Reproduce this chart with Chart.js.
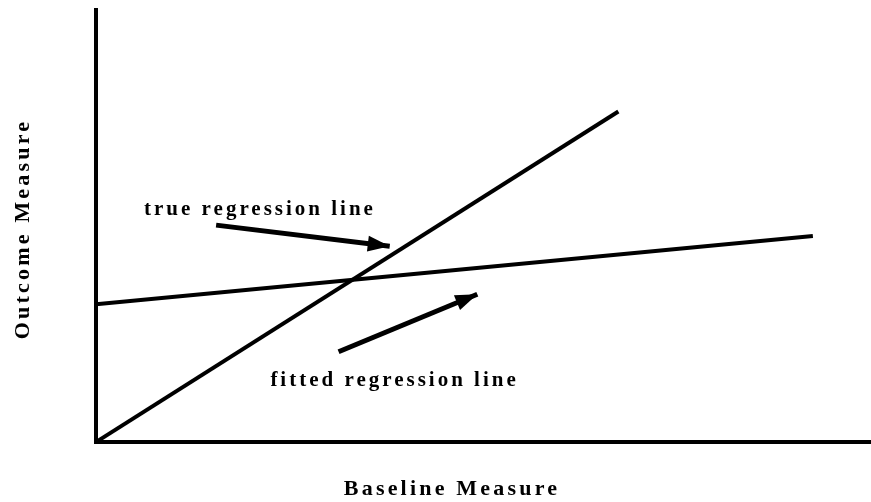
<!DOCTYPE html>
<html>
<head>
<meta charset="utf-8">
<script src="https://cdn.jsdelivr.net/npm/chart.js@4.4.0/dist/chart.umd.min.js"></script>
<style>
  html, body { margin: 0; padding: 0; background: #fff; }
  #wrap { width: 871px; height: 502px; }
</style>
</head>
<body>
<div id="wrap"><canvas id="myChart"></canvas></div>
<script>
// line endpoints in axis units (0-10 on both axes)
var trueLine = [{x: 0, y: 0}, {x: 6.74, y: 7.65}];
var fittedLine = [{x: 0, y: 3.19}, {x: 9.25, y: 4.77}];
// arrows: tail then tip
var arrowTrue = [{x: 1.55, y: 5.02}, {x: 3.79, y: 4.53}];
var arrowFitted = [{x: 3.13, y: 2.09}, {x: 4.92, y: 3.42}];
// annotation labels: [text, x, y]
var labels = [
  ["true regression line", 0.62, 5.38],
  ["fitted regression line", 2.25, 1.42]
];
var xTitle = "Baseline Measure";
var yTitle = "Outcome Measure";

var serif = "'Liberation Serif', 'DejaVu Serif', serif";

// arrowheads, labels and axis titles
var annotate = {
  id: "annotate",
  afterDatasetsDraw: function(chart) {
    var ctx = chart.ctx;
    var xs = chart.scales.x, ys = chart.scales.y;
    ctx.save();
    ctx.fillStyle = "#000";
    [arrowTrue, arrowFitted].forEach(function(a) {
      var x0 = xs.getPixelForValue(a[0].x), y0 = ys.getPixelForValue(a[0].y);
      var x1 = xs.getPixelForValue(a[1].x), y1 = ys.getPixelForValue(a[1].y);
      var ang = Math.atan2(y1 - y0, x1 - x0);
      var len = 22, half = 8;
      ctx.beginPath();
      ctx.moveTo(x1, y1);
      ctx.lineTo(x1 - len * Math.cos(ang) + half * Math.sin(ang), y1 - len * Math.sin(ang) - half * Math.cos(ang));
      ctx.lineTo(x1 - len * Math.cos(ang) - half * Math.sin(ang), y1 - len * Math.sin(ang) + half * Math.cos(ang));
      ctx.closePath();
      ctx.fill();
    });
    ctx.font = "bold 21px " + serif;
    ctx.letterSpacing = "3px";
    ctx.textBaseline = "middle";
    ctx.textAlign = "left";
    labels.forEach(function(l) {
      ctx.fillText(l[0], xs.getPixelForValue(l[1]), ys.getPixelForValue(l[2]));
    });
    ctx.font = "bold 22px " + serif;
    ctx.letterSpacing = "3.2px";
    ctx.textAlign = "center";
    ctx.fillText(xTitle, 452, 489);
    ctx.translate(23, 229);
    ctx.rotate(-Math.PI / 2);
    ctx.fillText(yTitle, 0, 0);
    ctx.restore();
  }
};

var ctx = document.getElementById("myChart").getContext("2d");
var myChart = new Chart(ctx, {
  type: "scatter",
  data: {
    datasets: [
      {data: trueLine, showLine: true, borderColor: "#000", borderWidth: 4, pointRadius: 0},
      {data: fittedLine, showLine: true, borderColor: "#000", borderWidth: 4, pointRadius: 0},
      {data: arrowTrue, showLine: true, borderColor: "#000", borderWidth: 5, pointRadius: 0},
      {data: arrowFitted, showLine: true, borderColor: "#000", borderWidth: 5, pointRadius: 0}
    ]
  },
  options: {
    responsive: true,
    maintainAspectRatio: false,
    animation: false,
    layout: {padding: {left: 96, right: 0, top: 10, bottom: 60}},
    plugins: {legend: {display: false}, tooltip: {enabled: false}},
    scales: {
      x: {
        type: "linear", min: 0, max: 10,
        grid: {display: false, drawTicks: false},
        border: {display: true, color: "#000", width: 4},
        ticks: {display: false}
      },
      y: {
        type: "linear", min: 0, max: 10,
        grid: {display: false, drawTicks: false},
        border: {display: true, color: "#000", width: 4},
        ticks: {display: false}
      }
    }
  },
  plugins: [annotate]
});
</script>
</body>
</html>
